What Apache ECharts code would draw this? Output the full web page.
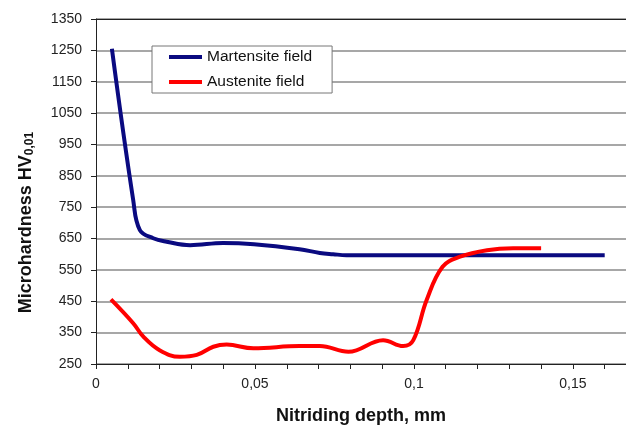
<!doctype html>
<html>
  <head>
    <meta charset="utf-8">
    <title>Microhardness</title>
    <script src="https://cdn.jsdelivr.net/npm/echarts@6/dist/echarts.min.js"></script>
    <style>
      body { margin: 0; background: #fff; }
      #main { width: 626px; height: 428px; }
    </style>
  </head>
  <body>
    <div id="main"></div>
    <script type="text/javascript">
      // values: [depth mm, HV]
      var martensite = [
        [0.005, 1255], [0.0117, 773], [0.0138, 677], [0.018, 651], [0.0222, 640],
        [0.0296, 629], [0.040, 636], [0.0497, 632], [0.064, 616], [0.0704, 604],
        [0.0746, 600], [0.0788, 597], [0.09, 597], [0.12, 597], [0.16, 597]
      ];
      var austenite = [
        [0.0047, 456], [0.0117, 380], [0.0149, 337], [0.020, 294], [0.0264, 273],
        [0.0317, 279], [0.0369, 305], [0.0411, 312], [0.0495, 300], [0.064, 307],
        [0.0704, 307], [0.0794, 289], [0.0903, 326], [0.0966, 307], [0.0998, 326],
        [0.104, 454], [0.109, 560], [0.1145, 592], [0.123, 613], [0.1312, 619], [0.14, 619]
      ];
      var seriesNames = ['Martensite field', 'Austenite field'];
      var xLabels = { 0: '0', 5: '0,05', 10: '0,1', 15: '0,15' };

      var myChart = echarts.init(document.getElementById('main'));
      var font = 'Liberation Sans, Arial, sans-serif';

      var option = {
        animation: false,
        textStyle: { fontFamily: font },
        grid: { left: 96, right: 0, top: 19, bottom: 64, outerBoundsMode: 'none', containLabel: false },
        legend: {
          orient: 'vertical',
          left: 152,
          top: 46,
          icon: 'rect',
          itemWidth: 33,
          itemHeight: 4,
          itemGap: 9,
          padding: [3, 20, 3, 17],
          borderColor: '#777',
          borderWidth: 1,
          backgroundColor: '#fff',
          textStyle: { fontSize: 15.5, color: '#111', fontFamily: font },
          data: seriesNames
        },
        xAxis: [{
          type: 'value',
          min: 0,
          max: 0.1667,
          interval: 0.01,
          name: 'Nitriding depth, mm',
          nameLocation: 'middle',
          nameGap: 43,
          nameTextStyle: { fontSize: 18, fontWeight: 'bold', color: '#111' },
          axisLine: { lineStyle: { color: '#222', width: 1 } },
          axisTick: { length: 5, lineStyle: { color: '#222' } },
          splitLine: { show: false },
          axisLabel: {
            margin: 13,
            fontSize: 14,
            color: '#222',
            formatter: function (v) {
              var k = Math.round(v * 100);
              return Math.abs(v * 100 - k) < 1e-6 && xLabels[k] !== undefined ? xLabels[k] : '';
            }
          }
        }, {
          type: 'value',
          position: 'top',
          min: 0,
          max: 0.1667,
          axisLine: { show: true, lineStyle: { color: '#222', width: 1 } },
          axisTick: { show: false },
          axisLabel: { show: false },
          splitLine: { show: false }
        }],
        yAxis: {
          type: 'value',
          min: 250,
          max: 1350,
          interval: 100,
          name: '{a|Microhardness HV}{b|0,01}',
          nameLocation: 'middle',
          nameGap: 60,
          nameTextStyle: {
            padding: [0, 62, 0, 0],
            rich: {
              a: { fontSize: 18, fontWeight: 'bold', color: '#111', fontFamily: font },
              b: { fontSize: 12, fontWeight: 'bold', color: '#111', fontFamily: font, verticalAlign: 'bottom', padding: [7, 0, 0, 0] }
            }
          },
          axisLine: { show: true, lineStyle: { color: '#222', width: 1 } },
          axisTick: { show: true, length: 5, lineStyle: { color: '#222' } },
          splitLine: { lineStyle: { color: '#8a8a8a', width: 1.5 } },
          axisLabel: {
            margin: 14,
            fontSize: 14,
            color: '#222',
            formatter: function (v) { return String(v); }
          }
        },
        series: [
          {
            name: seriesNames[0],
            type: 'line',
            smooth: 0.4,
            symbol: 'none',
            color: '#0a0a80',
            lineStyle: { width: 4, color: '#0a0a80' },
            data: martensite
          },
          {
            name: seriesNames[1],
            type: 'line',
            smooth: 0.4,
            symbol: 'none',
            color: '#ff0000',
            lineStyle: { width: 4, color: '#ff0000' },
            data: austenite
          }
        ]
      };
      myChart.setOption(option);
    </script>
  </body>
</html>
